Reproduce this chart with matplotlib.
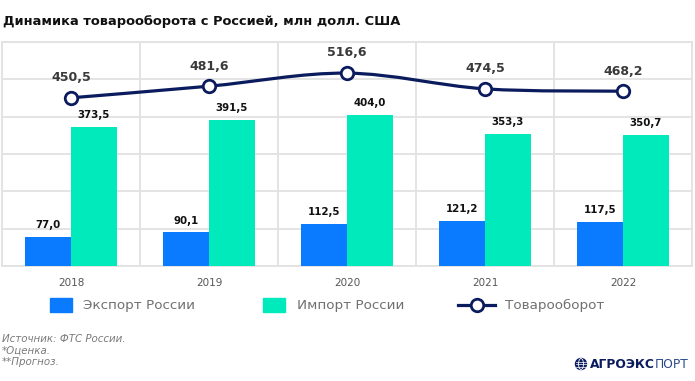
import matplotlib
matplotlib.use("Agg")
import matplotlib.pyplot as plt
from matplotlib.path import Path
from matplotlib.patches import PathPatch, Rectangle, Ellipse
from matplotlib.lines import Line2D
import numpy as np

years = ["2018", "2019", "2020", "2021", "2022"]
export_vals = [77.0, 90.1, 112.5, 121.2, 117.5]
import_vals = [373.5, 391.5, 404.0, 353.3, 350.7]
turnover_vals = [450.5, 481.6, 516.6, 474.5, 468.2]

title = "Динамика товарооборота с Россией, млн долл. США"
legend_labels = ["Экспорт России", "Импорт России", "Товарооборот"]
footnotes = ["Источник: ФТС России.", "*Оценка.", "**Прогноз."]

C_EXP = "#0a7bff"
C_IMP = "#00eabb"
C_LINE = "#0b1c5e"
C_GRID = "#e2e2e2"

def fmt(v):
    return f"{v:.1f}".replace(".", ",")

W, H = 695, 381
fig = plt.figure(figsize=(W / 100, H / 100), dpi=100)
ax = fig.add_axes([2 / W, 1 - 266 / H, 690 / W, 224 / H])

x = np.arange(len(years)) + 0.5
bw = 0.33
ax.bar(x - bw / 2, export_vals, width=bw, color=C_EXP, zorder=3)
ax.bar(x + bw / 2, import_vals, width=bw, color=C_IMP, zorder=3)

for xi, v in zip(x - bw / 2, export_vals):
    ax.annotate(fmt(v), (xi, v), xytext=(0, 8.5), textcoords="offset points",
                ha="center", va="center", fontsize=7.4, fontweight="bold", color="#111111", zorder=5)
for xi, v in zip(x + bw / 2, import_vals):
    ax.annotate(fmt(v), (xi, v), xytext=(0, 8.5), textcoords="offset points",
                ha="center", va="center", fontsize=7.4, fontweight="bold", color="#111111", zorder=5)

# smooth line through turnover points (Catmull-Rom -> cubic Bezier)
pts = np.column_stack([x, turnover_vals])
verts = [tuple(pts[0])]
codes = [Path.MOVETO]
n = len(pts)
for i in range(n - 1):
    p0 = pts[i - 1] if i > 0 else pts[i]
    p1 = pts[i]
    p2 = pts[i + 1]
    p3 = pts[i + 2] if i + 2 < n else pts[i + 1]
    c1 = p1 + (p2 - p0) / 6.0
    c2 = p2 - (p3 - p1) / 6.0
    verts += [tuple(c1), tuple(c2), tuple(p2)]
    codes += [Path.CURVE4] * 3
ax.add_patch(PathPatch(Path(verts, codes), facecolor="none", edgecolor=C_LINE,
                       lw=2.3, zorder=6, capstyle="round"))
ax.plot(x, turnover_vals, linestyle="none", marker="o", markersize=9,
        markerfacecolor="white", markeredgecolor=C_LINE, markeredgewidth=2.0, zorder=7)
for xi, v in zip(x, turnover_vals):
    ax.annotate(fmt(v), (xi, v), xytext=(0, 14.5), textcoords="offset points",
                ha="center", va="center", fontsize=9, fontweight="bold", color="#3a3a3a", zorder=8)

ax.set_xlim(0, 5)
ax.set_ylim(0, 600)
ax.set_yticks(np.arange(0, 601, 100))
ax.set_yticklabels([])
ax.set_xticks(np.arange(0, 6), minor=False)
ax.set_xticklabels([])
ax.set_xticks(x, minor=True)
ax.set_xticklabels(years, minor=True)
ax.tick_params(axis="both", which="both", length=0)
ax.tick_params(axis="x", which="minor", pad=9, labelsize=7.5, labelcolor="#555555")
ax.grid(True, which="major", color=C_GRID, lw=1.3, zorder=0)
for s in ax.spines.values():
    s.set_color(C_GRID)
    s.set_linewidth(1.3)

# title
fig.text(3 / W, 1 - 22 / H, title, ha="left", va="center", fontsize=9.4,
         fontweight="bold", color="#111111")

# legend (manual)
def fx(px):
    return px / W
def fy(py):
    return 1 - py / H

fig.patches.append(Rectangle((fx(50), fy(312)), 22 / W, 14 / H, transform=fig.transFigure,
                             color=C_EXP, figure=fig))
fig.text(fx(83), fy(305), legend_labels[0], ha="left", va="center", fontsize=9.7, color="#707070")
fig.patches.append(Rectangle((fx(263), fy(312)), 22 / W, 14 / H, transform=fig.transFigure,
                             color=C_IMP, figure=fig))
fig.text(fx(297), fy(305), legend_labels[1], ha="left", va="center", fontsize=9.7, color="#707070")
fig.lines.append(Line2D([fx(458), fx(495)], [fy(305), fy(305)], transform=fig.transFigure,
                        color=C_LINE, lw=2.3, figure=fig))
fig.lines.append(Line2D([fx(476.5)], [fy(305)], transform=fig.transFigure, marker="o",
                        markersize=9, markerfacecolor="white", markeredgecolor=C_LINE,
                        markeredgewidth=2.0, figure=fig))
fig.text(fx(505), fy(305), legend_labels[2], ha="left", va="center", fontsize=9.7, color="#707070")

# footnotes
for i, t in enumerate(footnotes):
    fig.text(fx(2), fy(339 + 11.5 * i), t, ha="left", va="center", fontsize=7.4,
             style="italic", color="#7a7a7a")

# logo
gx, gy = fx(581), fy(364)
r = 5.5
fig.patches.append(Ellipse((gx, gy), 2 * r / W, 2 * r / H, transform=fig.transFigure,
                           facecolor=C_LINE, edgecolor=C_LINE, figure=fig))
fig.patches.append(Ellipse((gx, gy), 0.9 * r / W, 2 * r / H, transform=fig.transFigure,
                           facecolor="none", edgecolor="white", lw=0.6, figure=fig))
for dy in (-2.5, 0, 2.5):
    half = np.sqrt(max(r * r - dy * dy, 0))
    fig.lines.append(Line2D([fx(581 - half), fx(581 + half)], [fy(364 + dy), fy(364 + dy)],
                            transform=fig.transFigure, color="white", lw=0.5, figure=fig))
t1 = fig.text(fx(590), fy(364), "АГРОЭКС", ha="left", va="center", fontsize=8.8,
              fontweight="bold", color=C_LINE)
fig.canvas.draw()
bb = t1.get_window_extent()
fig.text(bb.x1 / W, fy(364), "ПОРТ", ha="left", va="center", fontsize=8.8, color="#2a4a8a")

fig.savefig("out.png", dpi=100)
